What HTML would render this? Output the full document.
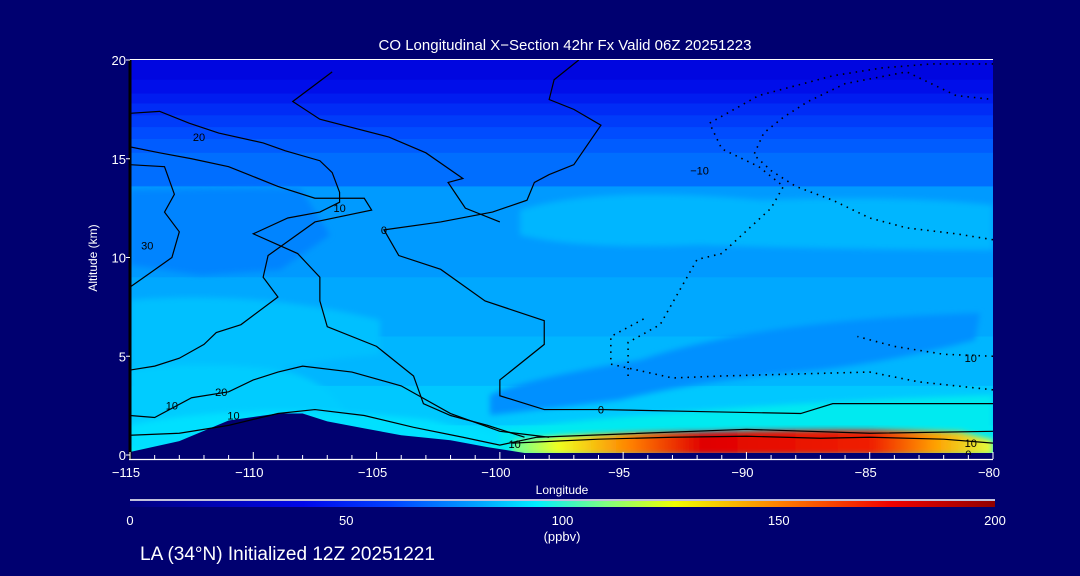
<!DOCTYPE html>
<html><head><meta charset="utf-8">
<style>
html,body{margin:0;padding:0;background:#000070;}
svg{display:block}
text{font-family:"Liberation Sans",sans-serif;fill:#fff}
</style></head>
<body>
<svg id="chart" width="1080" height="576" viewBox="0 0 1080 576" xmlns="http://www.w3.org/2000/svg">
<defs>
  <linearGradient id="cbar" x1="0" x2="1" y1="0" y2="0">
    <stop offset="0" stop-color="#000080"/>
    <stop offset="0.2" stop-color="#0008e8"/>
    <stop offset="0.3" stop-color="#0040ff"/>
    <stop offset="0.4" stop-color="#00a0ff"/>
    <stop offset="0.47" stop-color="#00f0ff"/>
    <stop offset="0.55" stop-color="#80ff80"/>
    <stop offset="0.63" stop-color="#f0ff00"/>
    <stop offset="0.75" stop-color="#ff8000"/>
    <stop offset="0.88" stop-color="#f00000"/>
    <stop offset="1" stop-color="#900000"/>
  </linearGradient>
  <linearGradient id="hot" x1="0" x2="1" y1="0" y2="0">
    <stop offset="0" stop-color="#60ffa0"/>
    <stop offset="0.1" stop-color="#f0ff20"/>
    <stop offset="0.25" stop-color="#ff8000"/>
    <stop offset="0.4" stop-color="#e00000"/>
    <stop offset="0.75" stop-color="#f02000"/>
    <stop offset="0.88" stop-color="#ffa000"/>
    <stop offset="1" stop-color="#e0ff40"/>
  </linearGradient>
  <linearGradient id="hotv" x1="0" x2="0" y1="0" y2="1">
    <stop offset="0" stop-color="#00e8ff" stop-opacity="1"/>
    <stop offset="1" stop-color="#00e8ff" stop-opacity="0"/>
  </linearGradient>
  <filter id="blur" x="-20%" y="-20%" width="140%" height="140%"><feGaussianBlur stdDeviation="3"/></filter>
  <clipPath id="plotclip"><rect x="130" y="60" width="863" height="395"/></clipPath>
</defs>
<g id="field" clip-path="url(#plotclip)"></g>
<g id="contours" clip-path="url(#plotclip)"></g>
<g id="axes"></g>
<text x="565" y="50" font-size="15" text-anchor="middle" fill="#ddd">CO Longitudinal X−Section 42hr  Fx Valid 06Z 20251223</text>
<text transform="translate(97,258) rotate(-90)" font-size="12" text-anchor="middle">Altitude (km)</text>
<text x="562" y="494" font-size="12" text-anchor="middle">Longitude</text>
<line x1="130" y1="500" x2="995" y2="500" stroke="#fff" stroke-width="1.5"/>
<rect x="130" y="501" width="865" height="6" fill="url(#cbar)"/>
<g id="cbticks"></g>
<text x="562" y="541" font-size="13" text-anchor="middle">(ppbv)</text>
<text x="140" y="560" font-size="19" fill="#eee">LA (34°N) Initialized 12Z 20251221</text>
</svg>
<script>
const NS="http://www.w3.org/2000/svg";
const xTicks=[-115,-110,-105,-100,-95,-90,-85,-80];
const yTicks=[0,5,10,15,20];
const cbTicks=[0,50,100,150,200];
// filled altitude bands [altBottom, altTop, color]
const bandTops=[20,19.0,18.3,17.8,17.2,16.6,16.0,15.3,13.6,9.0,6.0,3.5,1.5,0.5];
const bandColors=["#0006e0","#000eea","#001cf0","#002cf6","#003cfa","#004cff","#005cff","#006eff","#009aff","#00a8ff","#00b6ff","#00c8ff","#00dcff","#00eef0"];
// terrain profile (lon, alt)
const terrLon=[-115,-113,-111,-109,-108,-107,-105.5,-104,-102,-100.5,-99.5,-99,-90,-80];
const terrAlt=[0.15,0.7,1.75,2.1,2.1,1.7,1.35,1.0,0.75,0.4,0.2,0.1,0.1,0.1];
// contour lines [lon array, alt array, dotted?]
const c0Lon=[-96.8,-97.8,-98.0,-97.0,-95.9,-97.0,-98.0,-98.6,-98.9,-100.3,-102.4,-104.7,-104.1,-102.4,-100.6,-98.2,-98.2,-100.0,-100.0,-98.2,-95.9,-91.9,-87.8,-86.5,-83.8,-80];
const c0Alt=[20,19.0,18.0,17.5,16.7,14.7,14.2,13.8,12.9,12.3,11.8,11.4,10.1,9.4,7.8,6.8,5.6,3.8,3.0,2.3,2.3,2.2,2.1,2.6,2.6,2.6];
const c10Lon=[-115,-113.8,-112.6,-111.4,-109.6,-108.7,-107.3,-106.8,-106.5,-106.5,-107.3,-108.6,-110.0,-108.2,-107.3,-107.3,-107.0,-105.0,-103.5,-103.1,-102.0,-100.5,-99.0];
const c10Alt=[17.3,17.4,16.8,16.3,15.8,15.4,14.9,14.3,13.3,12.8,12.3,12.0,11.2,10.2,9.0,7.8,6.5,5.5,4.0,2.6,2.0,1.5,0.9];
const c20Lon=[-115,-113.8,-112.5,-111.0,-110.2,-109.0,-107.5,-105.5,-105.2,-107.5,-109.4,-109.6,-109.0,-110.5,-111.5,-112.0,-113.0,-114.0,-115];
const c20Alt=[15.6,15.3,15.0,14.6,14.2,13.6,13.0,13.0,12.4,11.8,10.1,9.0,8.0,6.6,6.2,5.6,4.9,4.5,4.3];
const c30Lon=[-115,-113.6,-113.2,-113.6,-113.0,-113.3,-114.2,-115];
const c30Alt=[14.7,14.6,13.2,12.3,11.3,10.0,9.2,8.5];
const cTopLon=[-106.8,-108.4,-107.3,-104.5,-103.0,-101.5,-102.1,-101.4,-100.0];
const cTopAlt=[19.4,17.9,17.0,16.1,15.3,14.0,13.8,12.5,11.8];
const cLowLon=[-115,-114,-112.5,-111,-110,-109,-108,-106,-104,-102,-100,-98];
const cLowAlt=[2.0,1.9,2.9,3.2,3.8,4.2,4.5,4.2,3.5,2.1,1.2,0.9];
const cBaseLon=[-115,-113,-111,-109,-107.5,-105.5,-103.5,-101.5,-100,-98.5,-90,-85,-80];
const cBaseAlt=[1.0,1.1,1.5,2.1,2.3,2.0,1.4,0.9,0.5,0.9,1.3,1.1,1.2];
const cHotLon=[-99.5,-96,-93,-90,-87,-85,-82,-80];
const cHotAlt=[0.6,0.8,0.9,0.95,0.85,0.9,0.8,0.6];
const dAlon=[-94.8,-94.8,-93.5,-92.0,-91.0,-89.0,-88.5,-89.5,-91.0,-91.5,-89.5,-86.5,-84.5,-82.5,-80];
const dAalt=[4.0,5.7,6.6,9.9,10.2,12.5,13.6,14.6,15.5,16.8,18.2,19.2,19.6,19.8,19.8];
const dBlon=[-80,-81.5,-83.5,-85,-86.5,-88,-89,-89.7,-89.3,-88.5,-87.5,-86,-83.5,-81.5,-80];
const dBalt=[10.9,11.2,11.5,12.0,12.9,13.6,14.4,15.2,16.3,17.1,17.9,18.8,19.4,18.2,18.0];
const dClon=[-80,-81.5,-83,-85,-88,-91,-93,-95.5,-95.5,-94];
const dCalt=[3.3,3.5,3.7,4.2,4.1,4.0,3.9,4.6,6.0,7.0];
const dDlon=[-80,-82,-84,-85.5];
const dDalt=[5.0,5.1,5.5,6.0];

const x=lon=>130+(lon+115)*(863/35);
const y=alt=>455-alt*(395/20);
const cbx=v=>130+v*(865/200);
const field=document.getElementById('field');
const cont=document.getElementById('contours');
const axes=document.getElementById('axes');
function mk(tag,attrs,parent){const e=document.createElementNS(NS,tag);for(const k in attrs)e.setAttribute(k,attrs[k]);parent.appendChild(e);return e;}

// bands
for(let i=0;i<bandTops.length;i++){
  const top=bandTops[i],bot=(i+1<bandTops.length)?bandTops[i+1]:0;
  const r=mk('rect',{x:130,y:y(top),width:863,height:y(bot)-y(top)+0.5,fill:bandColors[i]},field);
  
  
}
// blobs (softened regions)
const blobs=[
 ["M130,190 L300,188 L330,235 L280,270 L200,275 L130,265 Z","#0084ff"],
 ["M520,210 Q600,185 760,200 Q900,195 993,205 L993,250 Q850,250 700,245 Q580,250 520,235 Z","#00b6ff"],
 ["M490,395 Q520,380 640,360 Q760,320 980,313 L975,340 Q900,360 820,370 Q700,380 620,400 Q540,410 490,415 Z","#0090ff"],
 ["M130,300 Q260,290 380,320 L380,355 Q300,360 250,380 L130,380 Z","#00c0ff"],
 ["M130,370 Q200,360 280,370 Q330,380 350,420 L130,445 Z","#00ccff"],
 ["M130,425 Q250,400 430,420 L510,440 L130,450 Z","#00e0ff"],
 ["M500,430 Q700,405 993,395 L993,455 L500,455 Z","#00eaf0"]
];
for(const b of blobs){const p=mk('path',{d:b[0],fill:b[1],filter:'url(#blur)'},field);
 
 }
// hot spot
const hs=mk('path',{d:`M510,455 L515,440 Q600,432 700,432 Q850,428 960,432 L993,440 L993,455 Z`,fill:'url(#hot)',filter:'url(#blur)'},field);


// terrain
let td=`M${x(terrLon[0])},${y(0)-0}`;
td+=` L${x(terrLon[0])},${y(terrAlt[0])}`;
for(let i=1;i<terrLon.length;i++) td+=` L${x(terrLon[i])},${y(terrAlt[i])}`;
td+=` L${x(-80)},460 L130,460 Z`;
const tp=mk('path',{d:td,fill:'#000070'},field);



// contours
const lines=[[c0Lon,c0Alt,0],[c10Lon,c10Alt,0],[c20Lon,c20Alt,0],[c30Lon,c30Alt,0],[cTopLon,cTopAlt,0],[cLowLon,cLowAlt,0],[cBaseLon,cBaseAlt,0],[cHotLon,cHotAlt,0],[dAlon,dAalt,1],[dBlon,dBalt,1],[dClon,dCalt,1],[dDlon,dDalt,1]];
for(const [lo,al,dot] of lines){
  const pts=lo.map((v,i)=>x(v)+','+y(al[i])).join(' ');
  const pl=mk('polyline',{points:pts,fill:'none',stroke:'#000','stroke-width':dot?1.6:1.2,'stroke-dasharray':dot?'1.5 5':'none'},cont);
  
  
}
const clabels=[[-104.7,11.4,'0'],[-106.5,12.5,'10'],[-112.2,16.1,'20'],[-114.3,10.6,'30'],[-111.3,3.2,'20'],[-113.3,2.5,'10'],[-110.8,2.0,'10'],[-99.4,0.55,'10'],[-95.9,2.3,'0'],[-91.9,14.4,'−10'],[-80.9,4.9,'10'],[-80.9,0.6,'10'],[-81.0,0.05,'0']];
for(const c of clabels){const t=mk('text',{x:x(c[0]),y:y(c[1])+4,'font-size':11,'text-anchor':'middle',fill:'#000',style:'fill:#000'},cont);t.textContent=c[2];
 
 }

// axes
const yl=mk('line',{x1:130,y1:60,x2:130,y2:459,stroke:'#000',"stroke-width":3},axes);

const xl=mk('line',{x1:129,y1:459.5,x2:993,y2:459.5,stroke:'#fff',"stroke-width":1.3},axes);

const tl=mk('line',{x1:130,y1:59.5,x2:993,y2:59.5,stroke:'#fff',"stroke-width":1},axes);

for(let l=-115;l<=-80;l++){const major=xTicks.includes(l);
 const t=mk('line',{x1:x(l),x2:x(l),y1:459,y2:major?452:455,stroke:'#fff','stroke-width':1},axes);
 }
for(const l of xTicks){const t=mk('text',{x:x(l)-4,y:477,'font-size':13,'text-anchor':'middle'},axes);t.textContent=(l<0?'−':'')+Math.abs(l);
 }
for(const a of yTicks){const t=mk('text',{x:126,y:y(a)+5,'font-size':13,'text-anchor':'end'},axes);t.textContent=a;
 
 const tk=mk('line',{x1:126,x2:130,y1:y(a),y2:y(a),stroke:'#fff'},axes);
 }
const cbg=document.getElementById('cbticks');
for(const v of cbTicks){const t=mk('text',{x:cbx(v),y:525,'font-size':13,'text-anchor':'middle'},cbg);t.textContent=v;
 }
</script>
</body></html>
